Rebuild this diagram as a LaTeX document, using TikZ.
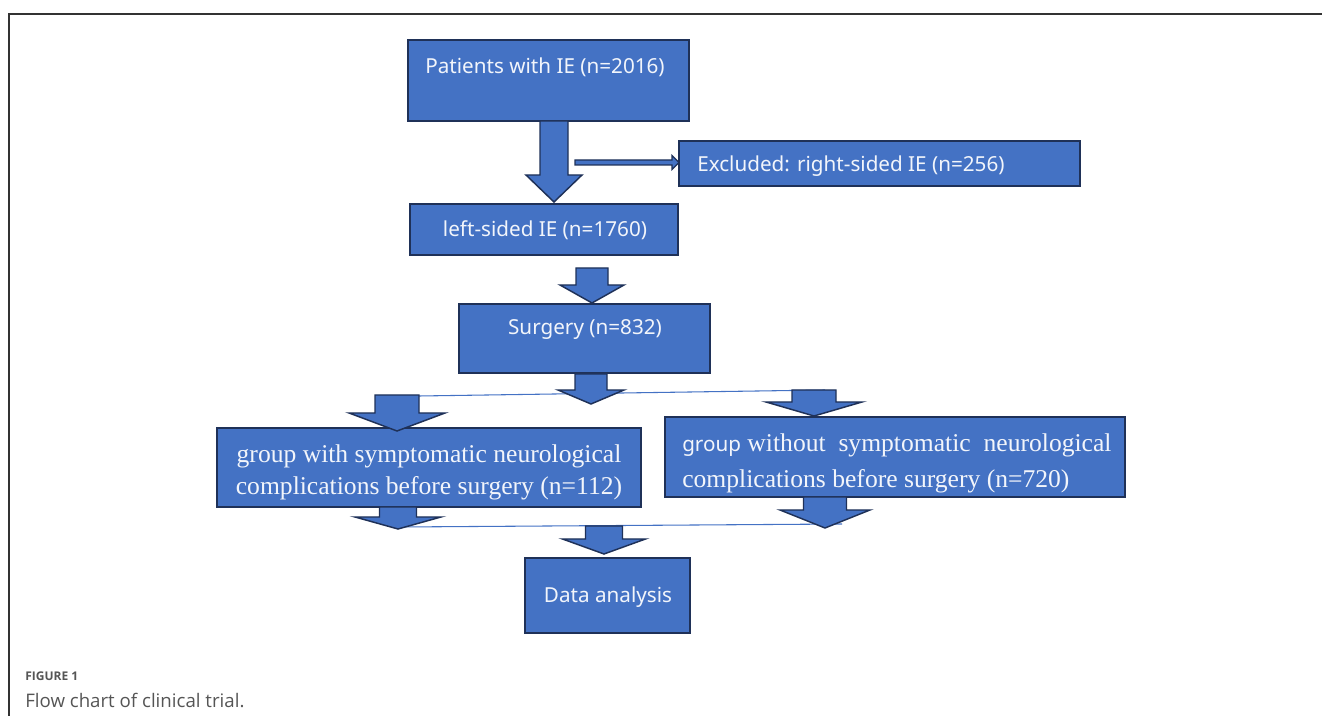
\documentclass[tikz,border=0pt]{standalone}
\usepackage{fontspec}
\setmainfont{Liberation Serif}
\newfontfamily\boxfont{Noto Sans}
\newfontfamily\capfont{Open Sans}
\usetikzlibrary{fit,positioning}
\definecolor{ieblue}{HTML}{4472C4}
\definecolor{ienavy}{HTML}{1F3158}
\definecolor{capgray}{HTML}{555555}
\tikzset{box/.style={draw=ienavy,fill=ieblue,line width=1.3pt,inner sep=0pt},
  btxt/.style={text=white!93!ieblue,font=\boxfont\fontsize{15.5}{19}\selectfont,inner sep=0pt},
  stxt/.style={text=white!93!ieblue,font=\fontsize{19.2}{24}\selectfont,inner sep=0pt},
  barrow/.style={draw=ienavy,fill=ieblue,line width=1.1pt,line join=miter},
  thinline/.style={draw=ieblue,line width=0.8pt}}
\newcommand{\blockarrow}[6]{\filldraw[barrow] (#1-#3,#2) -- (#1+#3,#2) -- (#1+#3,#4) -- (#1+#5,#4) -- (#1,#6) -- (#1-#5,#4) -- (#1-#3,#4) -- cycle;}
\begin{document}
\begin{tikzpicture}[x=0.75pt,y=-0.75pt]
\useasboundingbox (0,0) rectangle (1322,716);
\draw[color=black!80,line width=1.1pt] (1322,14) -- (9,14) -- (9,716);
\node[box,fit={(408,40) (689,121)}] (pat) {};
\node[box,fit={(679,141) (1080,186)}] (excl) {};
\node[box,fit={(410,204) (678,255)}] (left) {};
\node[box,fit={(459,304) (710,373)}] (surg) {};
\node[box,fit={(217,428) (641,507)}] (with) {};
\node[box,fit={(665,417) (1125,497)}] (without) {};
\node[box,fit={(525,558) (690,633)}] (data) {};
\node[btxt] (patT) at (545,67) {Patients with IE (n=2016)};
\node[btxt,anchor=west] (exclT) at (697,166) {Excluded: right-sided IE (n=256)};
\node[btxt] (leftT) at (545,230) {left-sided IE (n=1760)};
\node[btxt] (surgT) at (585,330) {Surgery (n=832)};
\node[stxt,align=center] (withT) at (429,472) {group with symptomatic neurological\\complications before surgery (n=112)};
\node[stxt,align=left,anchor=west,font=\fontsize{19.2}{27}\selectfont] (withoutT) at (682,463) {{\boxfont\fontsize{15.5}{19}\selectfont group} without\ \ symptomatic\ \ neurological\\complications before surgery (n=720)};
\node[btxt] (dataT) at (608,597) {Data analysis};
\coordinate (s1) at (419,396); \coordinate (s2) at (825,390);
\coordinate (m1) at (400,527); \coordinate (m2) at (842,524);
\draw[thinline] (s1) -- (s2);
\draw[thinline] (m1) -- (m2);
\blockarrow{554}{121}{14}{175}{28}{202}
\filldraw[barrow,line width=0.9pt] (575,160) -- (672,160) -- (672,155.5) -- (679,162.5) -- (672,169.5) -- (672,165) -- (575,165) -- cycle;
\blockarrow{592}{268}{16}{285}{32}{303}
\blockarrow{591}{374}{16}{390}{33}{404}
\blockarrow{397}{395}{22}{413}{48}{431}
\blockarrow{814}{390}{22}{402}{48}{416}
\blockarrow{398}{507}{18.5}{517}{43}{529}
\blockarrow{825}{497}{21.5}{510}{45}{528}
\blockarrow{604}{526}{18.5}{539}{41.5}{554}
\node[anchor=west,text=capgray,font=\capfont\bfseries\fontsize{9}{11}\selectfont,inner sep=0pt] (fig) at (25,676) {FIGURE 1};
\node[anchor=west,text=capgray,font=\capfont\fontsize{14}{16}\selectfont,inner sep=0pt] (cap) at (25,700) {Flow chart of clinical trial.};
\end{tikzpicture}
\end{document}
